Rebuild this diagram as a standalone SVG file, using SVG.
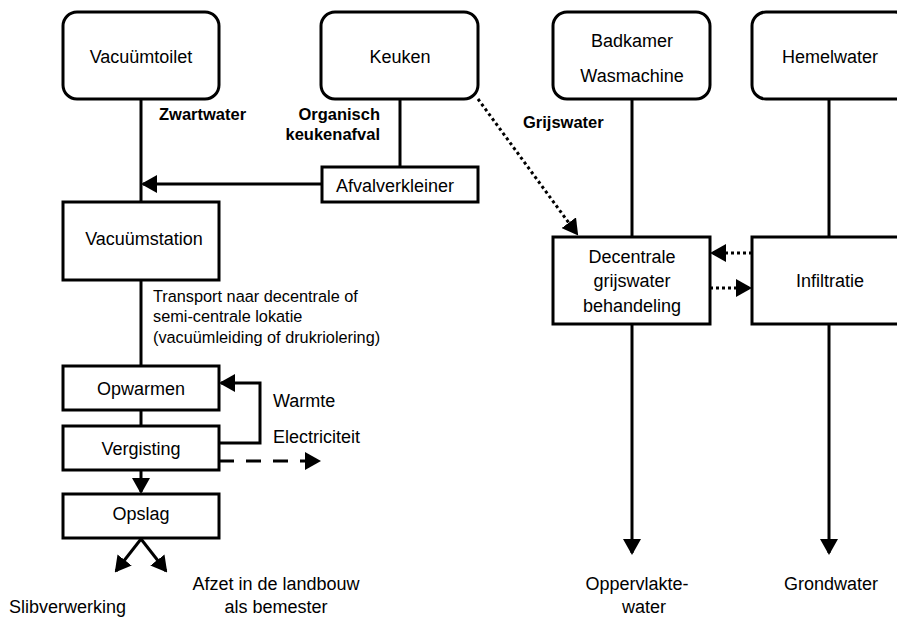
<svg xmlns="http://www.w3.org/2000/svg" width="897" height="617" viewBox="0 0 897 617">
<style>
.box{fill:#fff;stroke:#000;stroke-width:3}
.ln{fill:none;stroke:#000;stroke-width:3}
.dot{fill:none;stroke:#000;stroke-width:3;stroke-dasharray:3 3}
.dash{fill:none;stroke:#000;stroke-width:3;stroke-dasharray:15 12}
text{font-family:"Liberation Sans",Arial,sans-serif;font-size:18px;fill:#000}
.c{text-anchor:middle}
.b{font-weight:bold;font-size:16.5px}
.s{font-size:16.3px}
</style>
<defs>
<marker id="ah" markerUnits="userSpaceOnUse" markerWidth="16" markerHeight="18" refX="14" refY="9" orient="auto">
<path d="M0,0 L16,9 L0,18 z" fill="#000"/>
</marker>
</defs>
<rect width="897" height="617" fill="#fff"/>
<g id="connectors">
<line class="ln" x1="141" y1="99" x2="141" y2="202"/>
<line class="ln" x1="400" y1="99" x2="400" y2="167"/>
<line class="ln" x1="322" y1="184" x2="143" y2="184" marker-end="url(#ah)"/>
<line class="ln" x1="141" y1="280" x2="141" y2="366"/>
<line class="ln" x1="141" y1="410" x2="141" y2="426"/>
<polyline class="ln" points="219,443 260,443 260,383 221,383" marker-end="url(#ah)"/>
<line class="dash" x1="219" y1="461" x2="319" y2="461" marker-end="url(#ah)"/>
<line class="ln" x1="141" y1="470" x2="141" y2="492" marker-end="url(#ah)"/>
<line class="ln" x1="141" y1="539" x2="116" y2="571" marker-end="url(#ah)"/>
<line class="ln" x1="141" y1="539" x2="166" y2="571" marker-end="url(#ah)"/>
<line class="dot" x1="478" y1="99" x2="577" y2="234" marker-end="url(#ah)"/>
<line class="ln" x1="632" y1="99" x2="632" y2="237"/>
<line class="ln" x1="829" y1="99" x2="829" y2="237"/>
<line class="dot" x1="752" y1="253" x2="712" y2="253" marker-end="url(#ah)"/>
<line class="dot" x1="710" y1="288" x2="750" y2="288" marker-end="url(#ah)"/>
<line class="ln" x1="632" y1="324" x2="632" y2="553" marker-end="url(#ah)"/>
<line class="ln" x1="829" y1="324" x2="829" y2="553" marker-end="url(#ah)"/>
</g>
<g id="vacuumtoilet"><rect class="box" x="63" y="12" width="156" height="87" rx="14"/><text class="c" x="141" y="63">Vacuümtoilet</text></g>
<g id="keuken"><rect class="box" x="321" y="12" width="157" height="87" rx="14"/><text class="c" x="400" y="63">Keuken</text></g>
<g id="badkamer"><rect class="box" x="553" y="12" width="157" height="87" rx="14"/><text class="c" x="632" y="47">Badkamer</text><text class="c" x="632" y="82">Wasmachine</text></g>
<g id="hemelwater"><rect class="box" x="752" y="12" width="157" height="87" rx="14"/><text class="c" x="830" y="63">Hemelwater</text></g>
<g id="afvalverkleiner"><rect class="box" x="322" y="167" width="156" height="35"/><text class="c" x="395" y="192">Afvalverkleiner</text></g>
<g id="vacuumstation"><rect class="box" x="63" y="202" width="156" height="78"/><text class="c" x="144" y="245">Vacuümstation</text></g>
<g id="opwarmen"><rect class="box" x="63" y="366" width="156" height="44"/><text class="c" x="141" y="395">Opwarmen</text></g>
<g id="vergisting"><rect class="box" x="63" y="426" width="156" height="44"/><text class="c" x="141" y="455">Vergisting</text></g>
<g id="opslag"><rect class="box" x="63" y="494" width="156" height="44"/><text class="c" x="141" y="520">Opslag</text></g>
<g id="decentrale"><rect class="box" x="553" y="237" width="157" height="87"/><text class="c" x="632" y="263">Decentrale</text><text class="c" x="632" y="287">grijswater</text><text class="c" x="632" y="312">behandeling</text></g>
<g id="infiltratie"><rect class="box" x="752" y="237" width="157" height="87"/><text class="c" x="830" y="287">Infiltratie</text></g>
<g id="labels">
<text class="b" x="159" y="120">Zwartwater</text>
<text class="b" x="380" y="120" text-anchor="end">Organisch</text>
<text class="b" x="380" y="140" text-anchor="end">keukenafval</text>
<text class="b" x="523" y="128">Grijswater</text>
<text class="s" x="153" y="302">Transport naar decentrale of</text>
<text class="s" x="153" y="322">semi-centrale lokatie</text>
<text class="s" x="153" y="343">(vacuümleiding of drukriolering)</text>
<text x="273" y="407">Warmte</text>
<text x="273" y="443">Electriciteit</text>
<text x="9" y="613">Slibverwerking</text>
<text class="c" x="276" y="590">Afzet in de landbouw</text>
<text class="c" x="276" y="613">als bemester</text>
<text class="c" x="637" y="590">Oppervlakte-</text>
<text class="c" x="644" y="613">water</text>
<text class="c" x="831" y="590">Grondwater</text>
</g>
</svg>
